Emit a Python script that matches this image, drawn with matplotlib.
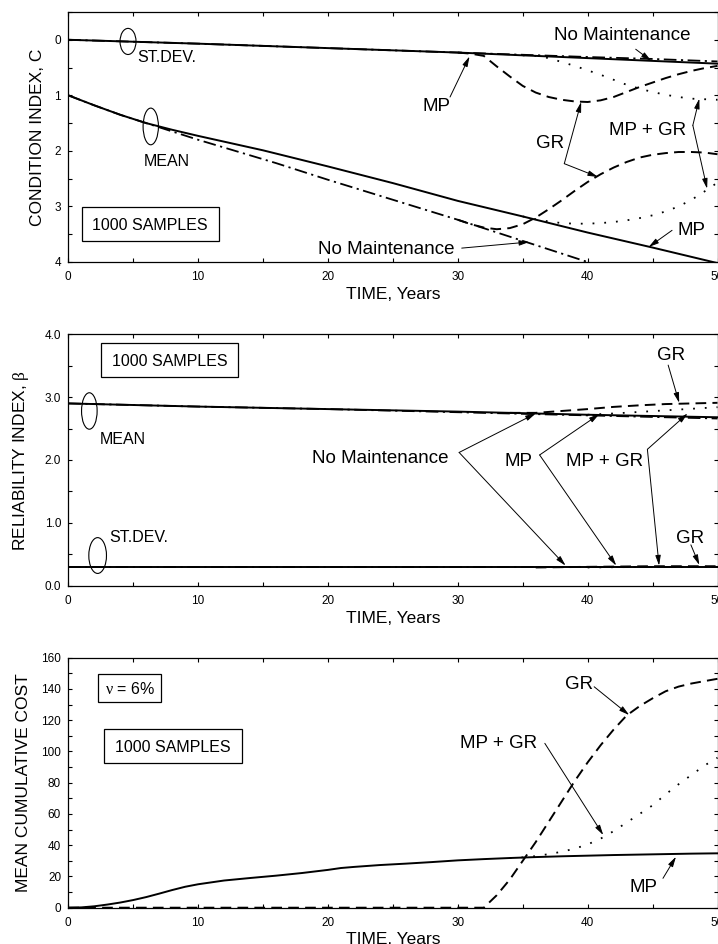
import matplotlib
matplotlib.use('Agg')
import matplotlib.pyplot as plt
from matplotlib.patches import Ellipse, Rectangle
from matplotlib.ticker import MultipleLocator

plt.rcParams['font.family'] = ['Liberation Sans', 'DejaVu Sans']
plt.rcParams['mathtext.fontset'] = 'custom'
plt.rcParams['mathtext.rm'] = 'Liberation Serif'
plt.rcParams['mathtext.it'] = 'Liberation Serif:italic'
plt.rcParams['mathtext.bf'] = 'Liberation Serif:bold'

# ---------------- DATA ----------------
# Panel 1: condition index
c_std_years = [0, 5, 10, 15, 20, 25, 30, 35, 40, 45, 50]
c_std_mp = [0, 0.035, 0.07, 0.11, 0.15, 0.19, 0.23, 0.28, 0.33, 0.38, 0.43]
c_std_nomaint = [0, 0.035, 0.07, 0.11, 0.15, 0.19, 0.23, 0.27, 0.31, 0.345, 0.39]
c_std_gr_years = [30, 31, 32, 33, 34, 35, 36, 37, 38, 39, 40, 41, 42, 43, 44, 45, 46, 47, 48, 49, 50]
c_std_gr = [0.23, 0.25, 0.29, 0.48, 0.66, 0.83, 0.95, 1.03, 1.08, 1.11, 1.12, 1.09, 1.03, 0.94,
            0.85, 0.77, 0.69, 0.62, 0.56, 0.51, 0.47]
c_std_mpgr_years = [35, 36, 37, 38, 39, 40, 41, 42, 43, 44, 45, 46, 47, 48, 49, 50]
c_std_mpgr = [0.28, 0.29, 0.33, 0.40, 0.47, 0.55, 0.63, 0.72, 0.81, 0.88, 0.94, 0.99, 1.03, 1.06, 1.07, 1.08]

c_mean_mp_years = [0, 2, 4, 6, 8, 10, 15, 20, 25, 30, 35, 40, 45, 50]
c_mean_mp = [1.0, 1.18, 1.35, 1.5, 1.62, 1.73, 1.99, 2.28, 2.58, 2.9, 3.18, 3.47, 3.74, 4.02]
c_mean_nm_years = [0, 2, 4, 6, 8, 10, 13, 16, 20, 25, 30, 35, 40, 45]
c_mean_nm = [1.0, 1.18, 1.35, 1.5, 1.65, 1.8, 2.01, 2.22, 2.52, 2.88, 3.24, 3.62, 4.0, 4.38]
c_mean_gr_years = [30, 31, 32, 33, 34, 35, 36, 37, 38, 39, 40, 41, 42, 43, 44, 45, 46, 47, 48, 49, 50]
c_mean_gr = [3.24, 3.32, 3.38, 3.41, 3.39, 3.32, 3.2, 3.05, 2.89, 2.72, 2.56, 2.42, 2.30, 2.20,
             2.12, 2.07, 2.04, 2.02, 2.02, 2.03, 2.06]
c_mean_mpgr_years = [35, 36, 37, 38, 39, 40, 41, 42, 43, 44, 45, 46, 47, 48, 49, 50]
c_mean_mpgr = [3.18, 3.23, 3.27, 3.30, 3.31, 3.31, 3.30, 3.28, 3.25, 3.21, 3.16, 3.09, 3.0, 2.88, 2.73, 2.57]

# Panel 2: reliability index
b_years = [0, 10, 20, 30, 40, 50]
b_mean_mp = [2.9, 2.85, 2.81, 2.77, 2.72, 2.68]
b_mean_nm = [2.9, 2.85, 2.81, 2.76, 2.71, 2.66]
b_mean_gr_years = [34, 36, 38, 40, 42, 44, 46, 48, 50]
b_mean_gr = [2.75, 2.75, 2.78, 2.81, 2.845, 2.87, 2.89, 2.90, 2.91]
b_mean_mpgr_years = [40, 42, 44, 46, 48, 50]
b_mean_mpgr = [2.72, 2.74, 2.765, 2.79, 2.815, 2.84]
b_std_years = [0, 10, 20, 30, 40, 50]
b_std_mp = [0.29, 0.29, 0.29, 0.29, 0.29, 0.29]
b_std_nm = [0.29, 0.29, 0.29, 0.29, 0.29, 0.29]
b_std_gr_years = [36, 40, 45, 50]
b_std_gr = [0.29, 0.30, 0.31, 0.31]
b_std_mpgr_years = [40, 45, 50]
b_std_mpgr = [0.29, 0.30, 0.30]

# Panel 3: mean cumulative cost
k_mp_years = [0, 1, 2, 3, 4, 5, 6, 7, 8, 9, 10, 12, 14, 16, 18, 20, 21, 22, 24, 26, 28, 30,
              32, 34, 36, 38, 40, 42, 44, 46, 48, 50]
k_mp = [0, 0.2, 0.9, 2.0, 3.3, 4.9, 6.8, 9.0, 11.3, 13.4, 15.0, 17.4, 19.0, 20.5, 22.2, 24.2,
        25.4, 26.1, 27.3, 28.2, 29.2, 30.3, 31.1, 31.8, 32.4, 32.9, 33.3, 33.7, 34.0, 34.3, 34.6, 34.8]
k_gr_years = [0, 32, 33, 34, 35, 36, 37, 38, 39, 40, 41, 42, 43, 44, 45, 46, 47, 48, 49, 50]
k_gr = [0, 0, 8, 18, 30, 42, 55, 68, 81, 93, 104, 114, 123, 129, 134, 138.5, 141.5, 143.5, 145, 146.5]
k_mpgr_years = [34, 35, 36, 37, 38, 39, 40, 41, 42, 43, 44, 45, 46, 47, 48, 49, 50]
k_mpgr = [31.8, 32.2, 33.0, 34.3, 35.8, 37.8, 40.5, 44.2, 49.0, 54.5, 60.0, 65.5, 72.5, 79.0, 85.0, 91.0, 96.0]

x_ticks = [0, 10, 20, 30, 40, 50]
x_ticklabels = ['0', '10', '20', '30', '40', '50']
c_ticks = [0, 1, 2, 3, 4]
c_ticklabels = ['0', '1', '2', '3', '4']
b_ticks = [0, 1, 2, 3, 4]
b_ticklabels = ['0.0', '1.0', '2.0', '3.0', '4.0']
k_ticks = [0, 20, 40, 60, 80, 100, 120, 140, 160]
k_ticklabels = ['0', '20', '40', '60', '80', '100', '120', '140', '160']

# ---------------- STYLES ----------------
SOLID = dict(color='black', lw=1.4, ls='-')
DASH = dict(color='black', lw=1.4, ls=(0, (5.5, 3.2)))
DOT = dict(color='black', lw=1.3, ls=(0, (1, 5.5)))
DASHDOT = dict(color='black', lw=1.3, ls=(0, (7, 2.5, 1.2, 2.5)))

ANN_FS = 13.5
BOX_FS = 11.5
LAB_FS = 12.5
TICK_FS = 8.5

W, H = 718, 944
fig = plt.figure(figsize=(W / 100, H / 100), dpi=100)


def axes_px(left, top, right, bottom):
    return fig.add_axes([left / W, 1 - bottom / H, (right - left) / W, (bottom - top) / H])


ax1 = axes_px(68.3, 12, 717.5, 262)
ax2 = axes_px(68.3, 334.3, 717.5, 585.7)
ax3 = axes_px(68.3, 657.7, 717.5, 907.7)


def style_axes(ax, yticks, yticklabels, yminor, ylabel, ylabel_x):
    ax.set_xlim(0, 50)
    ax.set_xticks(x_ticks)
    ax.set_xticklabels(x_ticklabels)
    ax.xaxis.set_minor_locator(MultipleLocator(5))
    ax.set_yticks(yticks)
    ax.set_yticklabels(yticklabels)
    ax.yaxis.set_minor_locator(MultipleLocator(yminor))
    ax.tick_params(which='both', direction='in', top=True, right=True, length=2.6, width=0.8,
                   labelsize=TICK_FS)
    ax.tick_params(axis='x', which='both', pad=6.8)
    ax.tick_params(axis='y', which='both', pad=5.2)
    ax.set_xlabel('TIME, Years', fontsize=LAB_FS)
    ax.xaxis.set_label_coords(0.5, -0.099)
    ax.set_ylabel(ylabel, fontsize=LAB_FS)
    ax.yaxis.set_label_coords(ylabel_x, 0.5)
    for s in ax.spines.values():
        s.set_linewidth(0.9)


def arrow(ax, start, end):
    ax.annotate('', xy=end, xytext=start,
                arrowprops=dict(arrowstyle='-|>,head_length=0.75,head_width=0.2', color='black',
                                lw=0.7, shrinkA=0, shrinkB=0, mutation_scale=8))


def label(ax, x, y, s, fs=ANN_FS, ha='center'):
    ax.text(x, y, s, fontsize=fs, ha=ha, va='center_baseline')


def box(ax, x0, y0, x1, y1, s, fs=BOX_FS):
    ax.add_patch(Rectangle((x0, y0), x1 - x0, y1 - y0, transform=ax.transAxes, fill=False,
                           edgecolor='black', lw=0.9))
    ax.text((x0 + x1) / 2, (y0 + y1) / 2, s, transform=ax.transAxes, fontsize=fs,
            ha='center', va='center_baseline')


def ellipse(ax, xy, w, h):
    ax.add_patch(Ellipse(xy, w, h, fill=False, edgecolor='black', lw=0.8))


# ---------------- PANEL 1 ----------------
ax1.plot(c_std_years, c_std_nomaint, **DASHDOT)
ax1.plot(c_std_gr_years, c_std_gr, **DASH)
ax1.plot(c_std_mpgr_years, c_std_mpgr, **DOT)
ax1.plot(c_std_years, c_std_mp, **SOLID)
ax1.plot(c_mean_nm_years, c_mean_nm, **DASHDOT)
ax1.plot(c_mean_gr_years, c_mean_gr, **DASH)
ax1.plot(c_mean_mpgr_years, c_mean_mpgr, **DOT)
ax1.plot(c_mean_mp_years, c_mean_mp, **SOLID)
style_axes(ax1, c_ticks, c_ticklabels, 0.5, 'CONDITION INDEX, C', -0.036)
ax1.set_ylim(4, -0.5)

ellipse(ax1, (4.6, 0.03), 1.23, 0.47)
label(ax1, 5.3, 0.30, 'ST.DEV.', fs=BOX_FS, ha='left')
ellipse(ax1, (6.35, 1.56), 1.18, 0.66)
label(ax1, 5.82, 2.16, 'MEAN', fs=BOX_FS, ha='left')
box(ax1, 0.0206, 0.0852, 0.2318, 0.22, '1000 SAMPLES')

label(ax1, 42.66, -0.11, 'No Maintenance')
arrow(ax1, (43.7, 0.17), (44.9, 0.38))
label(ax1, 28.35, 1.17, 'MP')
arrow(ax1, (29.4, 1.03), (30.9, 0.30))
label(ax1, 37.1, 1.83, 'GR')
arrow(ax1, (38.2, 2.23), (39.5, 1.12))
arrow(ax1, (38.2, 2.23), (40.8, 2.47))
label(ax1, 44.6, 1.6, 'MP + GR')
arrow(ax1, (48.1, 1.54), (48.6, 1.06))
arrow(ax1, (48.1, 1.54), (49.2, 2.68))
label(ax1, 47.97, 3.4, 'MP')
arrow(ax1, (46.5, 3.43), (44.7, 3.73))
label(ax1, 24.5, 3.73, 'No Maintenance')
arrow(ax1, (30.3, 3.75), (35.5, 3.64))

# ---------------- PANEL 2 ----------------
ax2.plot(b_years, b_mean_nm, **DASHDOT)
ax2.plot(b_mean_gr_years, b_mean_gr, **DASH)
ax2.plot(b_mean_mpgr_years, b_mean_mpgr, **DOT)
ax2.plot(b_years, b_mean_mp, **SOLID)
ax2.plot(b_std_years, b_std_nm, **DASHDOT)
ax2.plot(b_std_gr_years, b_std_gr, **DASH)
ax2.plot(b_std_mpgr_years, b_std_mpgr, **DOT)
ax2.plot(b_std_years, b_std_mp, **SOLID)
style_axes(ax2, b_ticks, b_ticklabels, 0.5, r'RELIABILITY INDEX, $\mathrm{\beta}$', -0.0576)
ax2.set_ylim(0, 4)

box(ax2, 0.0503, 0.8302, 0.2615, 0.9654, '1000 SAMPLES')
ellipse(ax2, (1.62, 2.78), 1.2, 0.58)
label(ax2, 2.44, 2.35, 'MEAN', fs=BOX_FS, ha='left')
ellipse(ax2, (2.26, 0.48), 1.36, 0.57)
label(ax2, 3.14, 0.79, 'ST.DEV.', fs=BOX_FS, ha='left')

label(ax2, 24.0, 2.05, 'No Maintenance')
arrow(ax2, (30.1, 2.12), (36.0, 2.74))
arrow(ax2, (30.1, 2.12), (38.3, 0.32))
label(ax2, 34.7, 2.0, 'MP')
arrow(ax2, (36.3, 2.08), (40.9, 2.73))
arrow(ax2, (36.3, 2.08), (42.2, 0.32))
label(ax2, 41.3, 2.0, 'MP + GR')
arrow(ax2, (44.6, 2.17), (47.7, 2.74))
arrow(ax2, (44.6, 2.17), (45.5, 0.32))
label(ax2, 46.4, 3.70, 'GR')
arrow(ax2, (46.2, 3.51), (47.05, 2.91))
label(ax2, 47.9, 0.78, 'GR')
arrow(ax2, (47.95, 0.65), (48.6, 0.33))

# ---------------- PANEL 3 ----------------
ax3.plot(k_gr_years, k_gr, **DASH)
ax3.plot(k_mpgr_years, k_mpgr, **DOT)
ax3.plot(k_mp_years, k_mp, **SOLID)
style_axes(ax3, k_ticks, k_ticklabels, 10, 'MEAN CUMULATIVE COST', -0.0576)
ax3.set_ylim(0, 160)

box(ax3, 0.0462, 0.824, 0.1426, 0.9336, r'$\mathrm{\nu}$ = 6%')
box(ax3, 0.0554, 0.58, 0.2668, 0.7148, '1000 SAMPLES')

label(ax3, 39.3, 144.1, 'GR')
arrow(ax3, (40.5, 141.4), (43.2, 123.3))
label(ax3, 33.1, 106.2, 'MP + GR')
arrow(ax3, (36.7, 105.2), (41.2, 46.5))
label(ax3, 44.3, 14, 'MP')
arrow(ax3, (45.8, 18.8), (46.8, 32.6))

fig.savefig('out.png', dpi=100)
